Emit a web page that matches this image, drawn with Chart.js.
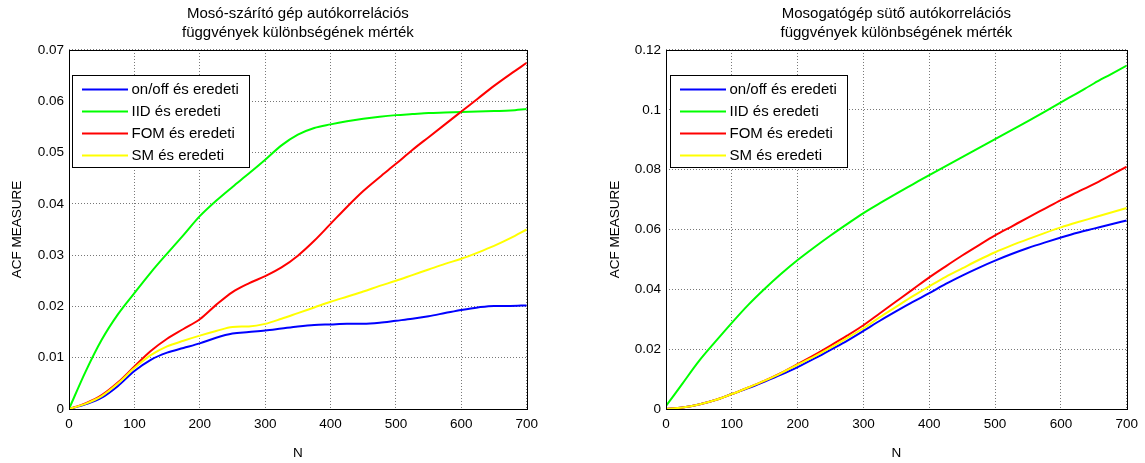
<!DOCTYPE html>
<html><head><meta charset="utf-8">
<script src="https://cdn.jsdelivr.net/npm/chart.js@4.4.0/dist/chart.umd.min.js"></script>
<style>
html,body{margin:0;padding:0;background:#fff;width:1145px;height:463px;overflow:hidden}
.box{position:absolute;top:0;height:463px}
canvas{display:block}
</style></head><body>
<div class="box" style="left:0;width:545px"><canvas id="c1" width="545" height="463"></canvas></div>
<div class="box" style="left:590px;width:555px"><canvas id="c2" width="555" height="463"></canvas></div>
<script>
// ---- data ----
const N = [0,25,50,75,100,125,150,175,200,225,250,275,300,325,350,375,400,425,450,475,500,525,550,575,600,625,650,675,700];
const seriesLabels = ['on/off és eredeti','IID és eredeti','FOM és eredeti','SM és eredeti'];

const leftTitle = ['Mosó-szárító gép autókorrelációs','függvények különbségének mérték'];
const leftOnOff = [0,0.0009,0.0022,0.0045,0.0074,0.0096,0.0110,0.0119,0.0128,0.0139,0.0147,0.0150,0.0153,0.0157,0.0161,0.0164,0.0165,0.0166,0.0166,0.0168,0.0172,0.0176,0.0181,0.0187,0.0193,0.0198,0.0201,0.0201,0.0202];
const leftIID   = [0,0.0072,0.0135,0.0185,0.0226,0.0266,0.0303,0.0339,0.0376,0.0406,0.0433,0.0459,0.0486,0.0514,0.0535,0.0548,0.0555,0.0561,0.0566,0.0570,0.0573,0.0575,0.0577,0.0578,0.0579,0.0580,0.0581,0.0582,0.0585];
const leftFOM   = [0,0.0011,0.0027,0.0052,0.0083,0.0113,0.0137,0.0156,0.0175,0.0203,0.0228,0.0245,0.0259,0.0276,0.0299,0.0328,0.0361,0.0394,0.0425,0.0452,0.0478,0.0505,0.0530,0.0555,0.0580,0.0605,0.0630,0.0653,0.0675];
const leftSM    = [0,0.0010,0.0025,0.0050,0.0080,0.0105,0.0122,0.0133,0.0143,0.0152,0.0160,0.0161,0.0166,0.0176,0.0187,0.0198,0.0209,0.0219,0.0229,0.0240,0.0250,0.0261,0.0272,0.0283,0.0293,0.0305,0.0318,0.0333,0.0350];
const leftYTicks = ['0','0.01','0.02','0.03','0.04','0.05','0.06','0.07'];

const rightTitle = ['Mosogatógép sütő autókorrelációs','függvények különbségének mérték'];
const rightOnOff = [0,0.0005,0.0015,0.0030,0.0050,0.0070,0.0092,0.0115,0.0140,0.0168,0.0198,0.0228,0.0261,0.0295,0.0327,0.0358,0.0387,0.0418,0.0446,0.0472,0.0496,0.0518,0.0538,0.0556,0.0573,0.0589,0.0603,0.0617,0.0630];
const rightIID   = [0.001,0.0085,0.0160,0.0225,0.0288,0.0348,0.0402,0.0452,0.0498,0.0540,0.0580,0.0618,0.0655,0.0688,0.0720,0.0751,0.0782,0.0812,0.0842,0.0872,0.0902,0.0932,0.0962,0.0993,0.1025,0.1056,0.1088,0.1118,0.1148];
const rightFOM   = [0,0.0005,0.0015,0.0030,0.0050,0.0072,0.0095,0.0121,0.0150,0.0180,0.0212,0.0245,0.0280,0.0320,0.0360,0.0400,0.0440,0.0477,0.0513,0.0547,0.0580,0.0610,0.0640,0.0669,0.0698,0.0725,0.0752,0.0781,0.0810];
const rightSM    = [0,0.0005,0.0015,0.0030,0.0050,0.0072,0.0095,0.0120,0.0148,0.0175,0.0205,0.0237,0.0270,0.0307,0.0342,0.0377,0.0410,0.0442,0.0470,0.0498,0.0524,0.0547,0.0568,0.0588,0.0607,0.0624,0.0640,0.0656,0.0672];
const rightYTicks = ['0','0.02','0.04','0.06','0.08','0.1','0.12'];

const xTicks = ['0','100','200','300','400','500','600','700'];
const colors = ['#0000ff','#00ff00','#ff0000','#ffff00'];

// ---- rendering ----
const FONT = "'Liberation Sans', Arial, sans-serif";

const framePlugin = {
  id: 'frameLegend',
  afterDatasetsDraw(chart, args, o) {
    const ctx = chart.ctx, a = chart.chartArea;
    ctx.save();
    ctx.strokeStyle = '#000'; ctx.lineWidth = 1;
    ctx.strokeRect(Math.round(a.left) + 0.5, Math.round(a.top) + 0.5, Math.round(a.right - a.left), Math.round(a.bottom - a.top));
    const x = Math.round(a.left + o.dx), y = Math.round(a.top + o.dy);
    ctx.fillStyle = '#fff'; ctx.fillRect(x, y, o.w, o.h);
    ctx.strokeRect(x + 0.5, y + 0.5, o.w, o.h);
    ctx.font = o.font; ctx.textBaseline = 'middle'; ctx.textAlign = 'left';
    chart.data.datasets.forEach((ds, i) => {
      const cy = Math.round(y + o.first + i * o.row) + 0.5;
      ctx.strokeStyle = ds.borderColor; ctx.lineWidth = 2;
      ctx.beginPath(); ctx.moveTo(x + o.l1, cy); ctx.lineTo(x + o.l2, cy); ctx.stroke();
      ctx.fillStyle = '#000'; ctx.fillText(ds.label, x + o.tx, cy);
    });
    ctx.restore();
  }
};

function makeChart(id, title, series, yMax, yStep, yTicks, yAxisWidth, yTitlePad, legendDx) {
  const datasets = series.map((arr, i) => ({
    label: seriesLabels[i],
    data: N.map((n, k) => ({x: n, y: arr[k]})),
    borderColor: colors[i], backgroundColor: colors[i],
    borderWidth: 2, pointRadius: 0, fill: false,
    cubicInterpolationMode: 'monotone',
    order: 3 - i
  }));
  return new Chart(document.getElementById(id), {
    type: 'line',
    data: {datasets},
    plugins: [framePlugin],
    options: {
      responsive: false, animation: false,
      layout: {padding: {left: 0, right: 15, top: 0, bottom: 0}},
      plugins: {
        legend: {display: false}, tooltip: {enabled: false},
        title: {display: true, text: title, fullSize: false, color: '#000',
                font: {family: FONT, size: 15, weight: 'normal', lineHeight: 1.233},
                padding: {top: 4.75, bottom: 8.25}},
        frameLegend: {dx: legendDx, dy: 25, w: 177, h: 92, first: 14, row: 22, l1: 10, l2: 56, tx: 59.5,
                      font: "15px " + FONT}
      },
      scales: {
        x: {type: 'linear', min: 0, max: 700,
            ticks: {stepSize: 100, color: '#000', padding: 7, maxRotation: 0,
                    font: {family: FONT, size: 13.5},
                    callback: (v, i) => xTicks[i]},
            grid: {color: '#777', drawTicks: false},
            border: {display: false, dash: [1, 2]},
            title: {display: true, text: 'N', color: '#000', font: {family: FONT, size: 13.5},
                    padding: {top: 0, bottom: 1.5}},
            afterFit: s => { s.height = 54; }},
        y: {type: 'linear', min: 0, max: yMax,
            ticks: {stepSize: yStep, color: '#000', padding: 5,
                    font: {family: FONT, size: 13.5},
                    callback: (v, i) => yTicks[i]},
            grid: {color: '#777', drawTicks: false},
            border: {display: false, dash: [1, 2]},
            title: {display: true, text: 'ACF MEASURE', color: '#000', font: {family: FONT, size: 13.5},
                    padding: {top: yTitlePad, bottom: 0}},
            afterFit: s => { s.width = yAxisWidth; }}
      }
    }
  });
}

makeChart('c1', leftTitle, [leftOnOff, leftIID, leftFOM, leftSM], 0.07, 0.01, leftYTicks, 69, 9.5, 3);
makeChart('c2', rightTitle, [rightOnOff, rightIID, rightFOM, rightSM], 0.12, 0.02, rightYTicks, 76, 17, 4);
</script>
</body></html>
